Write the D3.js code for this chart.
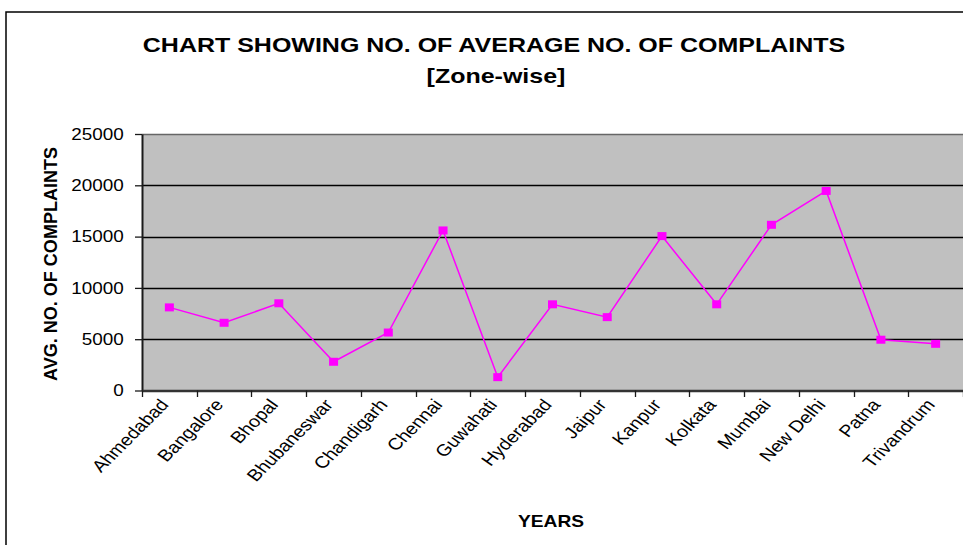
<!DOCTYPE html>
<html>
<head>
<meta charset="utf-8">
<script src="https://cdn.jsdelivr.net/npm/d3@7"></script>
<style>
    body { margin: 0; background: #fff; }
    svg { display: block; font-family: "Liberation Sans", Arial, sans-serif; }
</style>
</head>
<body>
<div id="chart"></div>
<script>
// data
const zones = ["Ahmedabad", "Bangalore", "Bhopal", "Bhubaneswar", "Chandigarh", "Chennai", "Guwahati",
    "Hyderabad", "Jaipur", "Kanpur", "Kolkata", "Mumbai", "New Delhi", "Patna", "Trivandrum"];
const complaints = [8100, 6600, 8500, 2800, 5650, 15600, 1300, 8400, 7150, 15050, 8400, 16150, 19450, 4950, 4550];
const yTicks = [0, 5000, 10000, 15000, 20000, 25000];

const width = 963, height = 545;
const plot = {left: 142, right: 963, top: 134, bottom: 390.5};
const stretch = 1.18; // text in the reference is drawn a bit wider than it is tall

const svg = d3.select("#chart").append("svg")
    .attr("width", width)
    .attr("height", height);

// outer frame (right and bottom edges run off the picture)
svg.append("rect")
    .attr("x", 6).attr("y", 12)
    .attr("width", 1000).attr("height", 600)
    .attr("fill", "none")
    .attr("stroke", "#000")
    .attr("stroke-width", 1.5);

const x = d3.scaleBand().domain(zones).range([plot.left, plot.right]).padding(0);
const y = d3.scaleLinear().domain([0, 25000]).range([plot.bottom, plot.top]);

// plot background
svg.append("rect")
    .attr("x", plot.left).attr("y", plot.top)
    .attr("width", plot.right - plot.left)
    .attr("height", plot.bottom - plot.top)
    .attr("fill", "#c0c0c0");

// gridlines
svg.append("g")
    .selectAll("line")
    .data(yTicks.slice(1))
    .join("line")
    .attr("x1", plot.left).attr("x2", plot.right)
    .attr("y1", d => Math.round(y(d)) + 0.5)
    .attr("y2", d => Math.round(y(d)) + 0.5)
    .attr("stroke", d => d == 25000 ? "#666" : "#000")
    .attr("stroke-width", 1.3);

// y axis
const yAxis = svg.append("g")
    .attr("transform", "translate(" + plot.left + ",0)")
    .call(d3.axisLeft(y).tickValues(yTicks).tickSize(7).tickSizeOuter(0).tickPadding(8.5).tickFormat(d3.format("d")));
yAxis.select(".domain").attr("stroke", "#1a1a1a").attr("stroke-width", 2);
yAxis.selectAll(".tick line").attr("stroke", "#1a1a1a").attr("stroke-width", 1.3);
yAxis.selectAll(".tick text")
    .attr("font-size", 16)
    .attr("font-family", "Liberation Sans, Arial, sans-serif")
    .attr("fill", "#000")
    .attr("transform", "scale(" + stretch + ",1)");

// x axis: labels at category centres, ticks at boundaries
const xAxis = svg.append("g")
    .attr("transform", "translate(0," + plot.bottom + ")")
    .call(d3.axisBottom(x).tickSize(0).tickSizeOuter(0));
xAxis.select(".domain").attr("stroke", "#333").attr("stroke-width", 2.5);
xAxis.selectAll(".tick text")
    .attr("font-size", 16.5)
    .attr("font-family", "Liberation Sans, Arial, sans-serif")
    .attr("fill", "#000")
    .attr("text-anchor", "end")
    .attr("x", 0).attr("y", 0).attr("dy", "0.35em")
    .attr("transform", "translate(-5,11) scale(1.2,1) rotate(-50)");

xAxis.append("g")
    .selectAll("line")
    .data(zones.map(d => x(d)).concat([plot.right]))
    .join("line")
    .attr("x1", d => Math.round(d) + 0.5).attr("x2", d => Math.round(d) + 0.5)
    .attr("y1", 0).attr("y2", 6.5)
    .attr("stroke", "#1a1a1a")
    .attr("stroke-width", 1.3);

// the series
const cx = d => x(d) + x.bandwidth() / 2;
const points = zones.map((z, i) => ({zone: z, value: complaints[i]}));

svg.append("path")
    .datum(points)
    .attr("fill", "none")
    .attr("stroke", "#ff00ff")
    .attr("stroke-width", 1.5)
    .attr("d", d3.line().x(d => cx(d.zone)).y(d => y(d.value)));

svg.append("g")
    .selectAll("rect")
    .data(points)
    .join("rect")
    .attr("x", d => cx(d.zone) - 4.5)
    .attr("y", d => y(d.value) - 4)
    .attr("width", 9)
    .attr("height", 8)
    .attr("fill", "#ff00ff");

// titles
const title = svg.append("g")
    .attr("font-weight", "bold")
    .attr("text-anchor", "middle")
    .attr("fill", "#000");

title.append("text")
    .attr("transform", "translate(494,52) scale(1.19,1)")
    .attr("font-size", 21)
    .text("CHART SHOWING NO. OF AVERAGE NO. OF COMPLAINTS");

title.append("text")
    .attr("transform", "translate(496,83) scale(1.19,1)")
    .attr("font-size", 21)
    .text("[Zone-wise]");

title.append("text")
    .attr("transform", "translate(551,527) scale(1.2,1)")
    .attr("font-size", 16)
    .text("YEARS");

title.append("text")
    .attr("transform", "translate(57,264) rotate(-90)")
    .attr("font-size", 18)
    .attr("textLength", 234)
    .attr("lengthAdjust", "spacingAndGlyphs")
    .text("AVG. NO. OF COMPLAINTS");
</script>
</body>
</html>
